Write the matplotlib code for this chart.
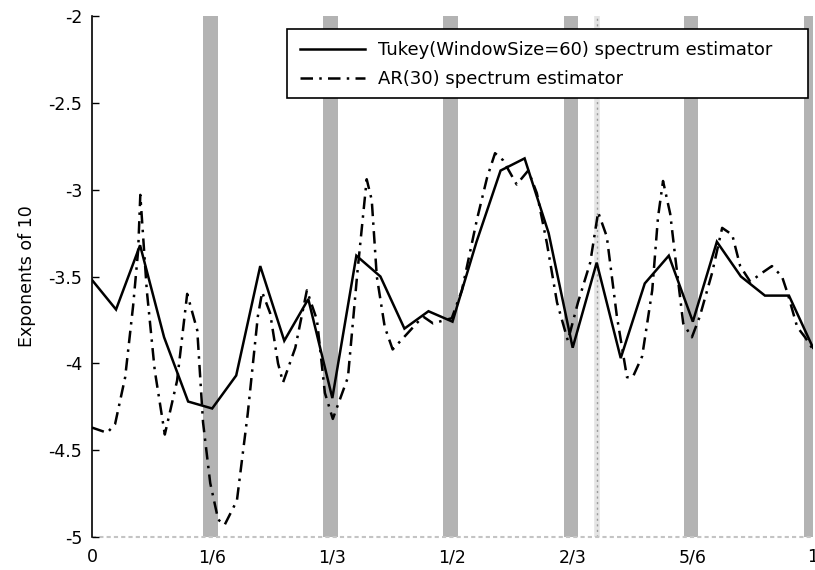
import matplotlib
matplotlib.use("Agg")
import matplotlib.pyplot as plt
from matplotlib.patches import Rectangle

plt.rcParams['font.family'] = ['DejaVu Sans']

# Tukey (window size 60) estimate, sampled every 1/30 of the normalised frequency
tukey_freq = [k / 30 for k in range(31)]
tukey_logpow = [-3.52, -3.69, -3.32, -3.85, -4.22, -4.26, -4.07, -3.44, -3.87, -3.63,
                -4.20, -3.38, -3.50, -3.80, -3.70, -3.76, -3.30, -2.89, -2.82, -3.25,
                -3.91, -3.42, -3.97, -3.54, -3.38, -3.76, -3.30, -3.50, -3.61, -3.61,
                -3.91]

# AR(30) estimate
ar_freq = [0.000, 0.021, 0.032, 0.046, 0.057, 0.064, 0.067, 0.076, 0.087, 0.101,
           0.118, 0.132, 0.146, 0.154, 0.164, 0.175, 0.184, 0.201, 0.216, 0.230,
           0.236, 0.247, 0.258, 0.265, 0.282, 0.298, 0.312, 0.323, 0.334, 0.355,
           0.368, 0.381, 0.388, 0.395, 0.406, 0.417, 0.437, 0.459, 0.473, 0.499,
           0.513, 0.534, 0.548, 0.559, 0.570, 0.589, 0.605, 0.617, 0.631, 0.645,
           0.660, 0.674, 0.691, 0.702, 0.714, 0.728, 0.742, 0.750, 0.763, 0.777,
           0.785, 0.792, 0.802, 0.809, 0.820, 0.832, 0.843, 0.860, 0.874, 0.888,
           0.899, 0.913, 0.929, 0.943, 0.957, 0.965, 0.978, 0.989, 1.000]
ar_logpow = [-4.37, -4.40, -4.35, -4.08, -3.67, -3.35, -3.03, -3.58, -4.04, -4.41,
             -4.10, -3.60, -3.81, -4.34, -4.69, -4.90, -4.93, -4.79, -4.29, -3.73,
             -3.59, -3.71, -4.00, -4.11, -3.91, -3.58, -3.75, -4.17, -4.32, -4.08,
             -3.48, -2.94, -3.06, -3.50, -3.79, -3.92, -3.83, -3.73, -3.77, -3.74,
             -3.58, -3.17, -2.93, -2.79, -2.83, -2.97, -2.89, -3.02, -3.31, -3.65,
             -3.87, -3.65, -3.42, -3.13, -3.27, -3.73, -4.08, -4.08, -3.96, -3.58,
             -3.16, -2.95, -3.14, -3.39, -3.77, -3.85, -3.73, -3.48, -3.22, -3.26,
             -3.44, -3.53, -3.48, -3.44, -3.50, -3.60, -3.79, -3.85, -3.92]

# Harmonic frequencies marked with shaded bands, plus one reference frequency
band_freq = [1 / 6, 2 / 6, 3 / 6, 4 / 6, 5 / 6, 1.0]
ref_freq = 0.7

xtick_pos = [0, 1 / 6, 2 / 6, 3 / 6, 4 / 6, 5 / 6, 1]
xtick_lab = ['0', '1/6', '1/3', '1/2', '2/3', '5/6', '1']
ytick_pos = [-5, -4.5, -4, -3.5, -3, -2.5, -2]
ytick_lab = ['-5', '-4.5', '-4', '-3.5', '-3', '-2.5', '-2']

W, H = 815, 570
fig = plt.figure(figsize=(W / 100, H / 100), dpi=100)
ax = fig.add_axes([92 / W, 33 / H, 721 / W, 521 / H])

for f in band_freq:
    ax.axvspan(f - 0.0125, f + 0.0075, color='#b3b3b3', lw=0, zorder=1)
ax.axvline(ref_freq, color='#e4e4e4', lw=4, zorder=1)
ax.axvline(ref_freq, color='#9a9a9a', lw=1, ls=(0, (1.5, 2.5)), zorder=1.1)
ax.axhline(-5, color='#c4c4c4', lw=1.5, ls=(0, (2, 1.5)), zorder=1.2, clip_on=False)

ax.plot(tukey_freq, tukey_logpow, color='black', lw=1.8, solid_joinstyle='miter',
        label='Tukey(WindowSize=60) spectrum estimator', zorder=3)
ax.plot(ar_freq, ar_logpow, color='black', lw=1.8, ls=(0, (5, 2.5, 1, 2.5)),
        label='AR(30) spectrum estimator', zorder=3)

ax.set_xlim(0, 1)
ax.set_ylim(-5, -2)
ax.set_xticks(xtick_pos)
ax.set_xticklabels(xtick_lab)
ax.set_yticks(ytick_pos)
ax.set_yticklabels(ytick_lab)
ax.tick_params(axis='x', length=0, pad=8, labelsize=12.5)
ax.tick_params(axis='y', direction='in', length=5, width=1, labelsize=12.5, pad=7)
for side in ('top', 'right', 'bottom'):
    ax.spines[side].set_visible(False)
ax.spines['left'].set_linewidth(1.2)
ax.set_ylabel('Exponents of 10', fontsize=12.5, labelpad=9)

# legend box drawn as its own patch, entries laid out inside it
box = Rectangle((0.2705, 0.8426), 0.7225, 0.1324, transform=ax.transAxes,
                facecolor='white', edgecolor='black', lw=1.2, zorder=4)
ax.add_patch(box)
leg = ax.legend(loc='upper left', bbox_to_anchor=(0.2885, 0.952), borderaxespad=0,
                fontsize=13, frameon=False, handlelength=3.6,
                handletextpad=0.7, labelspacing=0.6, borderpad=0)
leg.set_zorder(5)

fig.savefig('out.png', dpi=100)
